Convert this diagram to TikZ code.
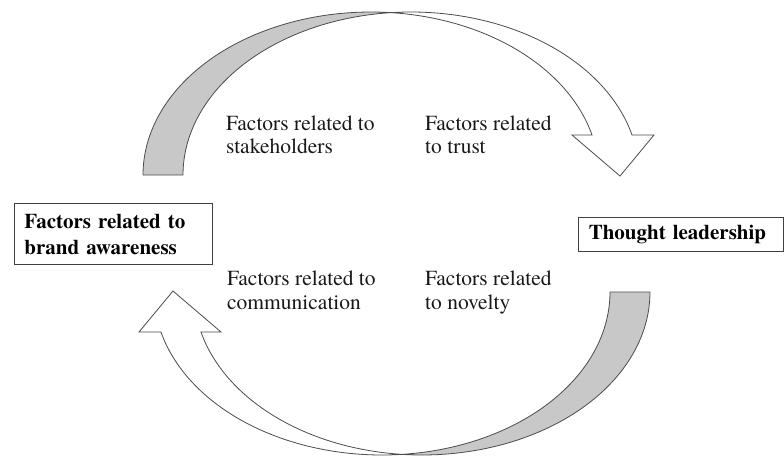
\documentclass[tikz,border=0pt]{standalone}
\usepackage{fontspec}
\setmainfont{texgyretermes}[Extension=.otf,UprightFont=*-regular,BoldFont=*-bold,
  ItalicFont=*-italic,BoldItalicFont=*-bolditalic]
\begin{document}
\begin{tikzpicture}[x=1pt,y=-1pt,
  bandline/.style={draw=black!70,line width=0.8pt,line join=miter},
  backband/.style={bandline,fill=bandgray},
  frontband/.style={bandline,fill=white},
  factorbox/.style={draw=black!75,line width=0.9pt,inner ysep=0pt,anchor=north west,
    align=left,font=\fontsize{21}{26}\selectfont\bfseries},
  factortext/.style={inner sep=0pt,anchor=base west,align=left,
    font=\fontsize{21.5}{23.3}\selectfont,text=black!90},
  % curved band arrow: two equal ellipses (radii 228 x 163) shifted by the band width
  curvedband/.pic={
    \path[backband]
      plot[domain=180:84.97,samples=60,smooth] ({371+228*cos(\x)},{175-163*sin(\x)})
      -- plot[domain=95.03:180,samples=60,smooth] ({411+228*cos(\x)},{175-163*sin(\x)})
      -- cycle;
    \path[frontband]
      plot[domain=95.03:14.2,samples=60,smooth] ({411+228*cos(\x)},{175-163*sin(\x)})
      -- (654,135) -- (620,176) -- (572,135)
      -- plot[domain=14.2:84.97,samples=60,smooth] ({371+228*cos(\x)},{175-163*sin(\x)})
      -- cycle;
  }]
\definecolor{bandgray}{RGB}{200,200,200}
\useasboundingbox (0,0) rectangle (784,455);

% upper arrow and its point-symmetric twin below
\pic at (0,0) {curvedband};
\pic[rotate=180] at (793,467) {curvedband};

% the two end concepts
\node[factorbox,inner xsep=9.7pt,text width=178pt,minimum height=60.7pt]
  (awareness) at (14.3,203.3) {Factors related to\\brand awareness};
\node[factorbox,inner xsep=10pt,text width=184.5pt,minimum height=34pt]
  (leadership) at (578.3,216.7) {Thought leadership};

% factor groups along the cycle
\node[factortext] (stake) at (226,153.5) {Factors related to\\stakeholders};
\node[factortext] (trust) at (425,153.5) {Factors related\\to trust};
\node[factortext] (comm)  at (227,309) {Factors related to\\communication};
\node[factortext] (novel) at (425,309) {Factors related\\to novelty};
\end{tikzpicture}
\end{document}
